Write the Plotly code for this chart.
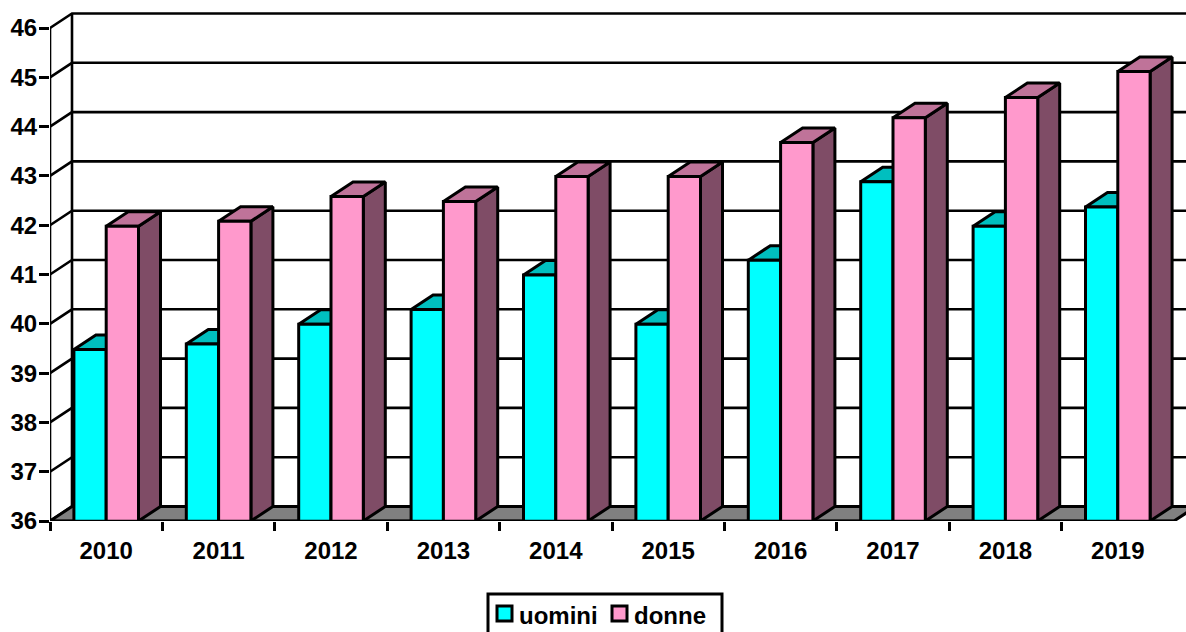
import plotly.graph_objects as go

years = ["2010", "2011", "2012", "2013", "2014", "2015", "2016", "2017", "2018", "2019"]
uomini = [39.48, 39.59, 39.99, 40.29, 40.99, 39.99, 41.29, 42.88, 41.98, 42.37]
donne = [41.98, 42.08, 42.58, 42.48, 42.99, 42.99, 43.68, 44.18, 44.59, 45.12]
y_ticks = [36, 37, 38, 39, 40, 41, 42, 43, 44, 45, 46]
series_names = ["uomini", "donne"]

W, H = 1186, 632
PL, PB, PT = 50, 111, 10      # plot area margins
PX_CAT, PX_UNIT = 112.4, 49.3 # pixels per category / per value unit
DEPTH_X = 22 / PX_CAT         # 3D depth in data units
DEPTH_Y = 14.5 / PX_UNIT
BAR_W = 32.3 / PX_CAT
Y0 = 36
FONT = "Liberation Sans"
FS = 24
LW = 3
GW = 2.6

x_max = (W - PL) / PX_CAT
y_max = Y0 + (H - PB - PT) / PX_UNIT
centres = [i + 0.5 for i in range(len(years))]


def poly_trace(polys, fill, z):
    xs, ys = [], []
    for p in polys:
        xs += [q[0] for q in p] + [p[0][0], None]
        ys += [q[1] for q in p] + [p[0][1], None]
    return go.Scatter(x=xs, y=ys, mode="lines", fill="toself", fillcolor=fill,
                      line=dict(color="black", width=LW), hoverinfo="skip",
                      showlegend=False, zorder=z)


def line_trace(xs, ys, z, clip=True):
    return go.Scatter(x=xs, y=ys, mode="lines", line=dict(color="black", width=GW),
                      hoverinfo="skip", showlegend=False, zorder=z, cliponaxis=clip)


def top_poly(left, v):
    return [(left, v), (left + BAR_W, v), (left + BAR_W + DEPTH_X, v + DEPTH_Y), (left + DEPTH_X, v + DEPTH_Y)]


def side_poly(left, v):
    r = left + BAR_W
    return [(r, Y0), (r, v), (r + DEPTH_X, v + DEPTH_Y), (r + DEPTH_X, Y0 + DEPTH_Y)]


fig = go.Figure()

# back wall grid and left wall diagonals
gx, gy = [], []
for t in y_ticks:
    gx += [0, DEPTH_X, x_max, None]
    gy += [t, t + DEPTH_Y, t + DEPTH_Y, None]
fig.add_trace(line_trace(gx, gy, 0))
fig.add_trace(line_trace([DEPTH_X, DEPTH_X], [Y0 + DEPTH_Y, y_ticks[-1] + DEPTH_Y], 0))

# floor
n = len(years)
fig.add_trace(poly_trace([[(0, Y0), (n, Y0), (n + DEPTH_X, Y0 + DEPTH_Y), (DEPTH_X, Y0 + DEPTH_Y)]], "#808080", 1))

# uomini
lefts_u = [c - BAR_W for c in centres]
fig.add_trace(poly_trace([side_poly(l, v) for l, v in zip(lefts_u, uomini)], "#007F7F", 2))
fig.add_trace(poly_trace([top_poly(l, v) for l, v in zip(lefts_u, uomini)], "#00BFBF", 2))
fig.add_trace(go.Bar(x=centres, y=uomini, width=BAR_W, offset=-BAR_W, name=series_names[0],
                     marker=dict(color="#00FFFF", line=dict(color="black", width=LW)),
                     showlegend=False, zorder=3))

# donne
lefts_d = list(centres)
fig.add_trace(poly_trace([side_poly(l, v) for l, v in zip(lefts_d, donne)], "#7F4C66", 4))
fig.add_trace(poly_trace([top_poly(l, v) for l, v in zip(lefts_d, donne)], "#BF7399", 4))
fig.add_trace(go.Bar(x=centres, y=donne, width=BAR_W, offset=0, name=series_names[1],
                     marker=dict(color="#FF99CC", line=dict(color="black", width=LW)),
                     showlegend=False, zorder=5))

# front axis lines
fig.add_trace(line_trace([0, 0], [Y0, y_ticks[-1]], 6, clip=False))
fig.add_trace(line_trace([0, n], [Y0, Y0], 6, clip=False))


def px(x):
    return (x - PL) / (W - PL)


def py(y):
    return (H - PB - y) / (H - PB - PT)


shapes = [
    dict(type="rect", xref="paper", yref="paper", x0=px(488), x1=px(722), y0=py(594), y1=py(642),
         fillcolor="white", line=dict(color="black", width=LW)),
    dict(type="rect", xref="paper", yref="paper", x0=px(497), x1=px(512), y0=py(606), y1=py(621),
         fillcolor="#00FFFF", line=dict(color="black", width=LW)),
    dict(type="rect", xref="paper", yref="paper", x0=px(612), x1=px(627), y0=py(606), y1=py(621),
         fillcolor="#FF99CC", line=dict(color="black", width=LW)),
]
legend_font = dict(family=FONT, size=FS, color="black", weight=700)
annotations = [
    dict(text=series_names[0], xref="paper", yref="paper", x=px(518), y=py(615), xanchor="left", yanchor="middle",
         showarrow=False, font=legend_font, borderpad=0),
    dict(text=series_names[1], xref="paper", yref="paper", x=px(633), y=py(615), xanchor="left", yanchor="middle",
         showarrow=False, font=legend_font, borderpad=0),
]

fig.update_layout(
    width=W, height=H, autosize=False,
    margin=dict(l=PL, r=0, t=PT, b=PB, pad=0),
    paper_bgcolor="white", plot_bgcolor="white",
    barmode="overlay", showlegend=False,
    shapes=shapes, annotations=annotations,
    xaxis=dict(range=[0, x_max], showgrid=False, zeroline=False, showline=False,
               tickmode="array", tickvals=centres, ticktext=years, ticks="",
               ticklabelstandoff=13,
               tickfont=dict(family=FONT, size=FS, color="black", weight=700),
               minor=dict(tickmode="array", tickvals=list(range(n)), ticks="outside",
                          ticklen=9, tickwidth=GW, tickcolor="black", showgrid=False)),
    yaxis=dict(range=[Y0, y_max], showgrid=False, zeroline=False, showline=False,
               tickmode="array", tickvals=y_ticks, ticks="outside", ticklen=10,
               tickwidth=GW, tickcolor="black", ticklabelstandoff=-3,
               tickfont=dict(family=FONT, size=FS, color="black", weight=700)),
)

fig.write_html("out.html", config={"displayModeBar": False},
               post_script="document.body.style.margin='0';document.body.style.overflow='hidden';")
